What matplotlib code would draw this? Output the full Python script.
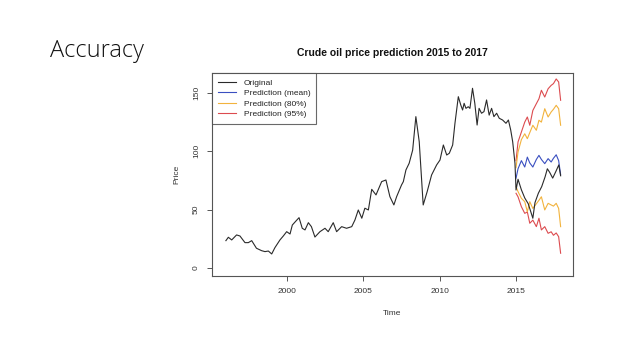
import matplotlib
matplotlib.use("Agg")
import matplotlib.pyplot as plt

years = [1996.0, 1996.16, 1996.38, 1996.7, 1996.92, 1997.25, 1997.47, 1997.69,
         1998.0, 1998.34, 1998.56, 1998.78, 1999.0, 1999.21, 1999.54, 1999.76,
         1999.98, 2000.2, 2000.35, 2000.64, 2000.79, 2001.0, 2001.18, 2001.4,
         2001.6, 2001.83, 2002.16, 2002.49, 2002.7, 2003.03, 2003.25, 2003.58,
         2003.9, 2004.24, 2004.45, 2004.67, 2004.9, 2005.1, 2005.33, 2005.55,
         2005.83, 2006.2, 2006.48, 2006.74, 2007.0, 2007.18, 2007.5, 2007.62,
         2007.79, 2008.0, 2008.23, 2008.44, 2008.66, 2008.92, 2009.18, 2009.47,
         2009.8, 2010.02, 2010.24, 2010.46, 2010.63, 2010.85, 2011.0, 2011.22,
         2011.38, 2011.5, 2011.6, 2011.72, 2011.87, 2011.98, 2012.15, 2012.3,
         2012.45, 2012.58, 2012.74, 2012.9, 2013.07, 2013.24, 2013.4, 2013.55,
         2013.73, 2013.9, 2014.12, 2014.34, 2014.5, 2014.65, 2014.78, 2014.93,
         2015.0, 2015.13, 2015.35, 2015.57, 2015.8, 2016.1, 2016.24, 2016.46,
         2016.68, 2016.9, 2017.05, 2017.2, 2017.4, 2017.6, 2017.8, 2017.92]
price = [23.4, 26.3, 24.0, 28.3, 27.4, 21.7, 21.7, 23.4,
         16.9, 14.8, 14.0, 14.5, 12.0, 17.4, 24.0, 27.4,
         31.1, 29.1, 36.8, 41.0, 43.1, 34.0, 32.6, 38.8,
         35.4, 26.5, 31.1, 34.0, 31.1, 38.8, 31.1, 35.4,
         34.0, 35.4, 41.1, 49.7, 42.6, 51.2, 49.7, 67.4,
         62.6, 74.0, 75.4, 61.1, 54.0, 61.1, 71.1, 74.0,
         84.0, 89.7, 101.0, 129.7, 108.2, 54.0, 65.4, 79.7,
         88.3, 92.5, 105.4, 96.8, 98.3, 105.4, 124.0, 146.8,
         139.7, 135.4, 141.1, 136.8, 138.2, 136.8, 154.0, 141.1,
         122.5, 136.8, 132.6, 134.0, 144.0, 131.0, 136.8, 129.7,
         132.6, 128.3, 126.8, 124.0, 126.8, 118.3, 108.2, 89.7,
         66.8, 76.0, 67.0, 60.0, 55.0, 42.6, 56.0, 64.0,
         69.7, 78.0, 85.0, 82.0, 77.0, 82.5, 88.3, 79.0]

# forecast 2015-2017
fc_years = [2015.0, 2015.13, 2015.35, 2015.57, 2015.74, 2015.9, 2016.1, 2016.33,
            2016.5, 2016.66, 2016.88, 2017.1, 2017.3, 2017.45, 2017.63, 2017.79,
            2017.92]
fc_mean = [77, 85, 92, 86.5, 95, 90, 86.5, 93, 96.5, 93, 89.4, 93.7, 90.8, 94, 97, 92, 80]
fc_hi80 = [86, 99.4, 110, 115, 110.8, 116, 122.3, 118, 126.6, 125, 136.5, 129.4, 133.7, 136, 139.4, 136.5, 122.3]
fc_hi95 = [92, 108, 116.5, 125, 129.4, 122.3, 135, 140.8, 145, 152.3, 146.5, 153.6, 156.5, 158, 162, 159.4, 143.7]
fc_lo80 = [69.7, 65.4, 59.7, 56.8, 48.2, 56.8, 51, 55, 58, 61, 49.7, 55.4, 54, 53, 55.4, 51, 35.4]
fc_lo95 = [64, 61, 52.5, 46.8, 48, 38.3, 41, 35.4, 42.6, 32.6, 35.4, 29.7, 31, 28, 30, 26.8, 12.6]

x_ticks = [2000, 2005, 2010, 2015]
y_ticks = [0, 50, 100, 150]

c_orig = "#2a2a2a"
c_mean = "#3a4fc0"
c_80 = "#f2b33d"
c_95 = "#dc4b4f"

plt.rcParams['font.family'] = ['Liberation Sans', 'DejaVu Sans']
plt.rcParams['font.stretch'] = 'normal'

fig = plt.figure(figsize=(6.4, 3.6), dpi=100)
fig.patch.set_facecolor("white")

fig.text(50/640, 1-57/360, "Accuracy", family=['Open Sans', 'DejaVu Sans'],
         fontweight='light', fontsize=17, color="#111111", va='baseline', ha='left')

ax = fig.add_axes([212/640, 1-276/360, 361/640, 203/360])

ax.plot(years, price, color=c_orig, lw=0.8, label="Original", zorder=5)
ax.plot(fc_years, fc_mean, color=c_mean, lw=0.8, label="Prediction (mean)", zorder=4)
ax.plot(fc_years, fc_hi80, color=c_80, lw=0.8, label="Prediction (80%)", zorder=3)
ax.plot(fc_years, fc_lo80, color=c_80, lw=0.8, zorder=3)
ax.plot(fc_years, fc_hi95, color=c_95, lw=0.8, label="Prediction (95%)", zorder=2)
ax.plot(fc_years, fc_lo95, color=c_95, lw=0.8, zorder=2)

ax.set_xlim(1995.09, 2018.73)
ax.set_ylim(-6.9, 167.1)
ax.set_xticks(x_ticks)
ax.set_yticks(y_ticks)
ax.set_xticklabels([str(v) for v in x_ticks], fontsize=6, color="#333333")
ax.set_yticklabels([str(v) for v in y_ticks], fontsize=6, color="#333333",
                   rotation=90, va='center')
ax.tick_params(direction='out', length=3.6, width=0.7, color="#555555", pad=5)
for s in ax.spines.values():
    s.set_color("#555555")
    s.set_linewidth(0.8)

ax.set_xlabel("Time", fontsize=6, color="#333333", labelpad=11)
ax.set_ylabel("Price", fontsize=6, color="#333333", labelpad=9)

fig.text(392/640, 1-53/360, "Crude oil price prediction 2015 to 2017",
         fontsize=7.5, fontweight='bold', ha='center', va='center', color="#111111")

leg = ax.legend(loc='upper left', fontsize=6, frameon=True, fancybox=False,
                borderaxespad=0, handlelength=2.2, handletextpad=0.9,
                labelspacing=0.32, borderpad=0.7)
leg.get_frame().set_edgecolor("#444444")
leg.get_frame().set_linewidth(0.8)
for t in leg.get_texts():
    t.set_color("#222222")

fig.savefig("out.png", dpi=100)
